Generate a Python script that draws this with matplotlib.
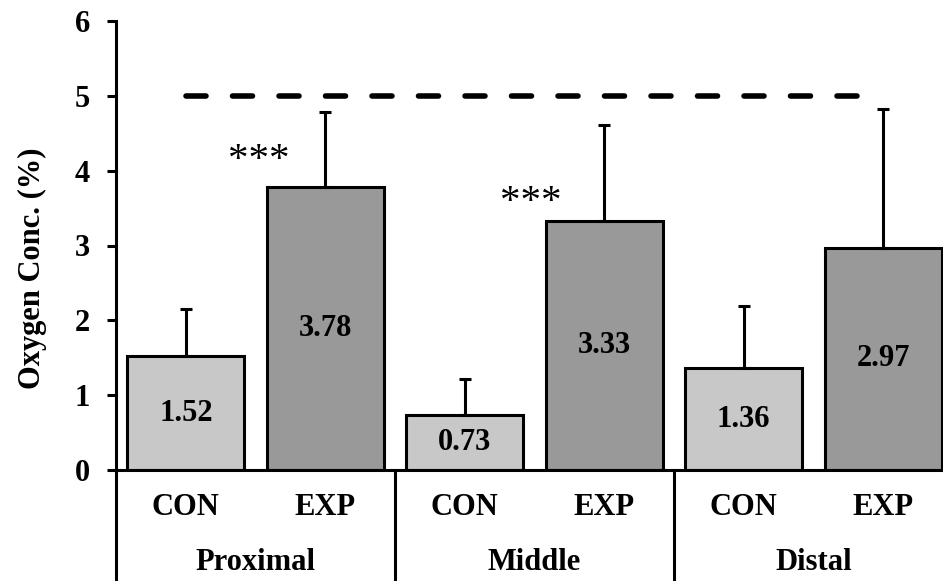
import matplotlib
matplotlib.use("Agg")
import matplotlib.pyplot as plt
import numpy as np
from matplotlib.transforms import blended_transform_factory

# ---- data ----
regions = ["Proximal", "Middle", "Distal"]
groups = ["CON", "EXP"]
con_means = [1.52, 0.73, 1.36]
exp_means = [3.78, 3.33, 2.97]
con_err = [0.63, 0.48, 0.83]
exp_err = [1.00, 1.28, 1.86]
significance = ["***", "***", ""]
y_ticks = [0, 1, 2, 3, 4, 5, 6]
ref_level = 5
y_label = "Oxygen Conc. (%)"

# ---- style / label placement ----
plt.rcParams['font.family'] = ['Liberation Serif', 'DejaVu Serif']
con_color = "#c8c8c8"
exp_color = "#999999"
fs = 22
star_dx = [-0.48, -0.53, -0.5]
star_dy = [0.36, 0.25, 0.3]

fig = plt.figure(figsize=(9.43, 5.81), dpi=100)
ax = fig.add_axes([116/943, 111/581, 837/943, 449/581])

n = len(regions)
con_x = np.arange(n) * 2
exp_x = np.arange(n) * 2 + 1
width = 0.84

ax.bar(con_x, con_means, width=width, color=con_color, edgecolor="black", linewidth=2.2, zorder=2)
ax.bar(exp_x, exp_means, width=width, color=exp_color, edgecolor="black", linewidth=2.2, zorder=2)

ax.errorbar(con_x, con_means, yerr=[np.zeros(n), con_err], fmt='none', ecolor='black',
            elinewidth=2.2, capsize=4.5, capthick=2.2, zorder=3)
ax.errorbar(exp_x, exp_means, yerr=[np.zeros(n), exp_err], fmt='none', ecolor='black',
            elinewidth=2.2, capsize=4.5, capthick=2.2, zorder=3)

# value labels at bar centres
for xs, ms in ((con_x, con_means), (exp_x, exp_means)):
    for x, m in zip(xs, ms):
        ax.text(x, m / 2, f"{m:.2f}", ha='center', va='center', fontsize=fs, fontweight='bold', zorder=4)

# significance stars
for x, m, s, dx, dy in zip(exp_x, exp_means, significance, star_dx, star_dy):
    if s:
        ax.text(x + dx, m + dy, s, ha='center', va='center', fontsize=29.5, zorder=4)

# reference dashed line from first to last bar
all_x = np.concatenate([con_x, exp_x])
ax.plot([all_x.min(), all_x.max()], [ref_level, ref_level], color='black', lw=4,
        linestyle=(0, (3.6, 4.77)), dash_capstyle='round', zorder=3)

ax.set_xlim(-0.5, 2 * n - 0.5)
ax.set_ylim(0, 6)
ax.set_yticks(y_ticks)
ax.set_yticklabels([str(t) for t in y_ticks], fontsize=fs, fontweight='bold')
ax.tick_params(axis='y', direction='out', length=6.5, width=2.2, pad=12)
ax.set_xticks([])

for side in ("top", "right"):
    ax.spines[side].set_visible(False)
ax.spines["left"].set_linewidth(2.2)
ax.spines["bottom"].set_linewidth(2.2)

ax.set_ylabel(y_label, fontsize=fs, fontweight='bold')
ax.yaxis.set_label_coords(-0.0824, 0.449)

# category labels below the axis
trans = blended_transform_factory(ax.transData, ax.transAxes)
for i in range(n):
    ax.text(con_x[i], -0.0846, groups[0], transform=trans, ha='center', va='center',
            fontsize=fs, fontweight='bold', clip_on=False)
    ax.text(exp_x[i], -0.0846, groups[1], transform=trans, ha='center', va='center',
            fontsize=fs, fontweight='bold', clip_on=False)
    ax.text((con_x[i] + exp_x[i]) / 2, -0.207, regions[i], transform=trans, ha='center', va='center',
            fontsize=fs, fontweight='bold', clip_on=False)

# separators below the axis
for xb in np.arange(n) * 2 - 0.5:
    ax.plot([xb, xb], [0, -0.3], transform=trans, color='black', lw=2.2, clip_on=False,
            solid_capstyle='butt')

fig.savefig("out.png", dpi=100)
